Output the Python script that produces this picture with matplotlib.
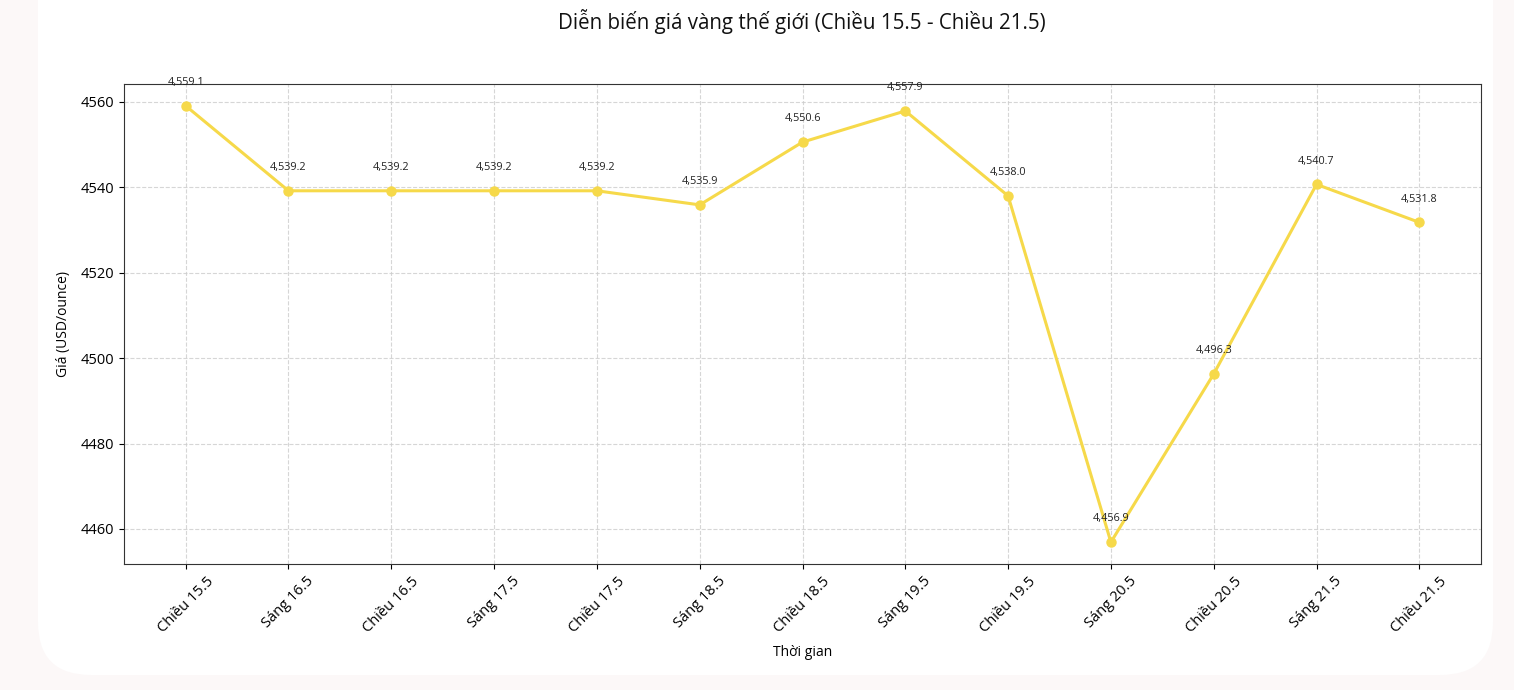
import matplotlib.pyplot as plt
from matplotlib.patches import FancyBboxPatch

plt.rcParams['font.family'] = ['Open Sans', 'DejaVu Sans']

# Dữ liệu giá vàng thế giới
thoi_gian = ['Chiều 15.5', 'Sáng 16.5', 'Chiều 16.5', 'Sáng 17.5', 'Chiều 17.5',
             'Sáng 18.5', 'Chiều 18.5', 'Sáng 19.5', 'Chiều 19.5', 'Sáng 20.5',
             'Chiều 20.5', 'Sáng 21.5', 'Chiều 21.5']
gia = [4559.1, 4539.2, 4539.2, 4539.2, 4539.2, 4535.9, 4550.6, 4557.9,
       4538.0, 4456.9, 4496.3, 4540.7, 4531.8]

W, H = 1514, 690
fig = plt.figure(figsize=(W / 100, H / 100), dpi=100)
fig.patch.set_facecolor('#fcf8f8')

# thẻ trắng bo góc
card = FancyBboxPatch((38 / W, 15 / H), (1493 - 38) / W, (690 - 15 - 15) / H + 0.1,
                      boxstyle='round,pad=0,rounding_size=0.035',
                      transform=fig.transFigure, facecolor='white', edgecolor='none',
                      mutation_aspect=W / H, zorder=-5)
fig.patches.append(card)

ax = fig.add_axes([124 / W, 1 - 564 / H, (1481 - 124) / W, (564 - 84) / H])
ax.set_zorder(2)
x = range(len(gia))
ax.plot(x, gia, color='#f6d94a', linewidth=2.2, marker='o', markersize=6.5)

for i, v in enumerate(gia):
    ax.annotate(f'{v:,.1f}', (i, v), xytext=(0, 15), textcoords='offset points',
                ha='center', fontsize=7.8, color='#222222')

ax.set_xticks(list(x))
ax.set_xticklabels(thoi_gian, rotation=45, fontsize=10.5)
ax.tick_params(axis='y', labelsize=10.5)
ax.grid(True, linestyle='--', color='#cccccc', alpha=0.8)
ax.set_xlabel('Thời gian', fontsize=10, labelpad=7)
ax.set_ylabel('Giá (USD/ounce)', fontsize=10, labelpad=7)
for s in ax.spines.values():
    s.set_color('#333333')

fig.text(802 / W, 1 - 22 / H, 'Diễn biến giá vàng thế giới (Chiều 15.5 - Chiều 21.5)',
         ha='center', va='center', fontsize=14.8, color='#111111')

fig.savefig('out.png', dpi=100, facecolor=fig.get_facecolor())
